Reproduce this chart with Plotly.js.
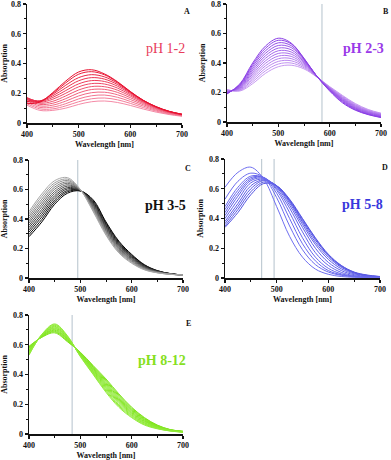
<!DOCTYPE html>
<html>
<head>
<meta charset="utf-8">
<script src="https://cdn.plot.ly/plotly-3.0.1.min.js"></script>
<style>
  html, body { margin: 0; padding: 0; background: #fff; }
  #chart { width: 391px; height: 460px; }
</style>
</head>
<body>
<div id="chart"></div>
<script>
// wavelength grid (nm)
const wavelengths = [400, 425, 450, 475, 500, 525, 550, 575, 600, 625, 650, 675, 700];

// A: pH 1-2
const curvesA = [
  [0.12, 0.085, 0.085, 0.10, 0.125, 0.143, 0.148, 0.138, 0.118, 0.094, 0.073, 0.057, 0.045],
  [0.13, 0.095, 0.095, 0.115, 0.143, 0.163, 0.168, 0.156, 0.132, 0.104, 0.080, 0.061, 0.048],
  [0.14, 0.105, 0.107, 0.13, 0.162, 0.183, 0.188, 0.173, 0.145, 0.114, 0.086, 0.065, 0.050],
  [0.15, 0.115, 0.12, 0.147, 0.182, 0.204, 0.207, 0.19, 0.158, 0.123, 0.092, 0.068, 0.052],
  [0.16, 0.125, 0.133, 0.164, 0.202, 0.225, 0.226, 0.206, 0.170, 0.131, 0.097, 0.071, 0.054],
  [0.165, 0.133, 0.146, 0.182, 0.222, 0.245, 0.244, 0.221, 0.181, 0.138, 0.101, 0.073, 0.055],
  [0.17, 0.14, 0.16, 0.20, 0.243, 0.265, 0.262, 0.235, 0.190, 0.143, 0.104, 0.075, 0.056],
  [0.17, 0.145, 0.172, 0.218, 0.263, 0.285, 0.279, 0.248, 0.198, 0.147, 0.106, 0.076, 0.057],
  [0.165, 0.148, 0.183, 0.236, 0.284, 0.305, 0.295, 0.259, 0.204, 0.150, 0.107, 0.077, 0.058],
  [0.155, 0.148, 0.193, 0.254, 0.305, 0.325, 0.310, 0.268, 0.208, 0.151, 0.108, 0.078, 0.058],
  [0.145, 0.145, 0.200, 0.270, 0.328, 0.345, 0.324, 0.274, 0.210, 0.152, 0.109, 0.078, 0.058],
  [0.13, 0.14, 0.205, 0.282, 0.343, 0.358, 0.330, 0.278, 0.212, 0.153, 0.110, 0.079, 0.059]
];

// B: pH 2-3
const curvesB = [
  [0.22, 0.21, 0.26, 0.33, 0.375, 0.385, 0.36, 0.305, 0.24, 0.18, 0.125, 0.085, 0.060],
  [0.218, 0.214, 0.273, 0.347, 0.393, 0.400, 0.368, 0.306, 0.237, 0.175, 0.120, 0.081, 0.057],
  [0.215, 0.218, 0.286, 0.364, 0.411, 0.415, 0.376, 0.307, 0.234, 0.170, 0.115, 0.077, 0.054],
  [0.212, 0.222, 0.299, 0.381, 0.429, 0.430, 0.384, 0.307, 0.232, 0.166, 0.111, 0.074, 0.052],
  [0.210, 0.226, 0.312, 0.398, 0.447, 0.445, 0.392, 0.308, 0.230, 0.162, 0.107, 0.071, 0.050],
  [0.207, 0.230, 0.325, 0.415, 0.465, 0.460, 0.400, 0.308, 0.228, 0.158, 0.103, 0.068, 0.047],
  [0.204, 0.234, 0.338, 0.432, 0.483, 0.475, 0.408, 0.309, 0.226, 0.154, 0.099, 0.065, 0.044],
  [0.201, 0.238, 0.351, 0.449, 0.501, 0.490, 0.415, 0.309, 0.224, 0.150, 0.095, 0.062, 0.041],
  [0.198, 0.243, 0.364, 0.466, 0.519, 0.505, 0.421, 0.310, 0.221, 0.146, 0.091, 0.058, 0.038],
  [0.195, 0.248, 0.377, 0.483, 0.537, 0.518, 0.426, 0.310, 0.218, 0.141, 0.087, 0.055, 0.035],
  [0.192, 0.253, 0.389, 0.500, 0.554, 0.530, 0.430, 0.310, 0.214, 0.136, 0.083, 0.052, 0.032],
  [0.19, 0.258, 0.40, 0.515, 0.568, 0.535, 0.432, 0.31, 0.21, 0.13, 0.08, 0.05, 0.03]
];

// C: pH 3-5
const curvesC = [
  [0.28, 0.38, 0.50, 0.575, 0.59, 0.53, 0.38, 0.25, 0.16, 0.09, 0.05, 0.03, 0.02],
  [0.295, 0.397, 0.515, 0.585, 0.591, 0.523, 0.372, 0.243, 0.155, 0.087, 0.049, 0.030, 0.02],
  [0.311, 0.415, 0.529, 0.594, 0.592, 0.515, 0.364, 0.235, 0.149, 0.084, 0.047, 0.029, 0.02],
  [0.326, 0.432, 0.544, 0.604, 0.593, 0.508, 0.355, 0.228, 0.144, 0.080, 0.046, 0.029, 0.02],
  [0.342, 0.449, 0.558, 0.613, 0.594, 0.501, 0.347, 0.221, 0.138, 0.077, 0.044, 0.028, 0.02],
  [0.357, 0.466, 0.573, 0.623, 0.595, 0.494, 0.339, 0.214, 0.133, 0.074, 0.043, 0.028, 0.02],
  [0.373, 0.484, 0.587, 0.632, 0.595, 0.486, 0.331, 0.206, 0.127, 0.071, 0.042, 0.027, 0.02],
  [0.388, 0.501, 0.602, 0.642, 0.596, 0.479, 0.323, 0.199, 0.122, 0.068, 0.040, 0.027, 0.02],
  [0.404, 0.518, 0.616, 0.651, 0.597, 0.472, 0.315, 0.192, 0.116, 0.064, 0.039, 0.026, 0.02],
  [0.419, 0.535, 0.631, 0.661, 0.598, 0.465, 0.306, 0.184, 0.111, 0.061, 0.037, 0.026, 0.02],
  [0.435, 0.553, 0.645, 0.670, 0.599, 0.457, 0.298, 0.177, 0.105, 0.058, 0.036, 0.025, 0.02],
  [0.45, 0.57, 0.66, 0.68, 0.60, 0.45, 0.29, 0.17, 0.10, 0.055, 0.035, 0.025, 0.02]
];

// D: pH 5-8
const curvesD = [
  [0.34, 0.44, 0.56, 0.635, 0.62, 0.53, 0.40, 0.27, 0.16, 0.085, 0.04, 0.02, 0.01],
  [0.35, 0.46, 0.58, 0.645, 0.62, 0.525, 0.395, 0.265, 0.155, 0.082, 0.038, 0.018, 0.009],
  [0.365, 0.48, 0.60, 0.655, 0.62, 0.52, 0.385, 0.255, 0.15, 0.078, 0.036, 0.017, 0.008],
  [0.38, 0.50, 0.62, 0.66, 0.62, 0.515, 0.375, 0.24, 0.14, 0.072, 0.033, 0.015, 0.007],
  [0.40, 0.525, 0.64, 0.665, 0.615, 0.505, 0.36, 0.225, 0.125, 0.062, 0.028, 0.013, 0.006],
  [0.42, 0.55, 0.655, 0.67, 0.61, 0.49, 0.34, 0.20, 0.105, 0.05, 0.022, 0.01, 0.005],
  [0.44, 0.57, 0.665, 0.675, 0.60, 0.47, 0.31, 0.17, 0.085, 0.038, 0.016, 0.008, 0.004],
  [0.46, 0.59, 0.675, 0.675, 0.59, 0.44, 0.27, 0.14, 0.065, 0.028, 0.012, 0.006, 0.003],
  [0.48, 0.61, 0.685, 0.675, 0.57, 0.40, 0.23, 0.115, 0.05, 0.022, 0.01, 0.005, 0.003],
  [0.53, 0.65, 0.705, 0.675, 0.54, 0.35, 0.19, 0.09, 0.04, 0.018, 0.008, 0.004, 0.002],
  [0.61, 0.71, 0.745, 0.665, 0.48, 0.28, 0.14, 0.06, 0.025, 0.01, 0.005, 0.003, 0.002]
];

// E: pH 8-12
const curvesE = [
  [0.59, 0.65, 0.68, 0.62, 0.55, 0.46, 0.37, 0.27, 0.18, 0.11, 0.06, 0.03, 0.018],
  [0.585, 0.652, 0.686, 0.624, 0.547, 0.455, 0.362, 0.262, 0.174, 0.106, 0.058, 0.029, 0.018],
  [0.579, 0.654, 0.691, 0.627, 0.545, 0.449, 0.354, 0.254, 0.167, 0.101, 0.055, 0.028, 0.017],
  [0.574, 0.655, 0.697, 0.631, 0.542, 0.444, 0.345, 0.245, 0.161, 0.096, 0.053, 0.027, 0.016],
  [0.568, 0.657, 0.702, 0.635, 0.539, 0.438, 0.337, 0.237, 0.155, 0.092, 0.051, 0.026, 0.016],
  [0.563, 0.659, 0.708, 0.638, 0.536, 0.433, 0.329, 0.229, 0.148, 0.087, 0.049, 0.026, 0.015],
  [0.557, 0.661, 0.713, 0.642, 0.534, 0.427, 0.321, 0.221, 0.142, 0.083, 0.046, 0.025, 0.015],
  [0.552, 0.663, 0.719, 0.645, 0.531, 0.422, 0.313, 0.213, 0.136, 0.078, 0.044, 0.024, 0.014],
  [0.546, 0.665, 0.724, 0.649, 0.528, 0.416, 0.305, 0.205, 0.129, 0.074, 0.042, 0.023, 0.014],
  [0.541, 0.666, 0.730, 0.653, 0.525, 0.411, 0.296, 0.196, 0.123, 0.069, 0.039, 0.022, 0.013],
  [0.535, 0.668, 0.735, 0.656, 0.523, 0.405, 0.288, 0.188, 0.116, 0.065, 0.037, 0.021, 0.013],
  [0.53, 0.67, 0.74, 0.66, 0.52, 0.40, 0.28, 0.18, 0.11, 0.06, 0.035, 0.02, 0.012]
];

const panelLetters = ["A", "B", "C", "D", "E"];
const phLabels = ["pH 1-2", "pH 2-3", "pH 3-5", "pH 5-8", "pH 8-12"];
// marker wavelengths (vertical lines) per panel
const markerLines = [[], [585], [495], [471, 495], [484]];

// ---- styling ----
const W = 391, H = 460;
const serif = "Liberation Serif, Times New Roman, serif";
// pixel boxes of each plot area: [left, right, top, bottom]
const boxes = [
  [27, 182, 4, 123],
  [227, 381, 4, 122],
  [29, 183, 160, 278],
  [225, 380, 159, 278],
  [29, 183, 315, 434]
];
const colorRanges = [
  ["#f58aa6", "#e8102e"],
  ["#c79af2", "#8a3ee6"],
  ["#000000", "#a8a8a8"],
  ["#5454e2", "#6e6ef0"],
  ["#7fe41c", "#92ec3a"]
];
const textColors = ["#e83c5c", "#9a3ae8", "#111111", "#3838dc", "#86e01e"];
const allCurves = [curvesA, curvesB, curvesC, curvesD, curvesE];

function hex(c) { return [1, 3, 5].map(i => parseInt(c.slice(i, i + 2), 16)); }
function mix(a, b, t) {
  const A = hex(a), B = hex(b);
  return "rgb(" + A.map((v, i) => Math.round(v + (B[i] - v) * t)).join(",") + ")";
}

const traces = [];
const layout = {
  width: W, height: H,
  margin: { l: 0, r: 0, t: 0, b: 0 },
  paper_bgcolor: "#fff", plot_bgcolor: "#fff",
  showlegend: false,
  shapes: [], annotations: []
};

const tickFont = { family: serif, size: 8, color: "#111", weight: "bold" };

allCurves.forEach((curves, p) => {
  const n = p + 1;
  const xa = n === 1 ? "x" : "x" + n;
  const ya = n === 1 ? "y" : "y" + n;
  const [l, r, t, b] = boxes[p];

  curves.forEach((vals, i) => {
    traces.push({
      x: wavelengths, y: vals,
      xaxis: xa, yaxis: ya,
      mode: "lines",
      line: { color: mix(colorRanges[p][0], colorRanges[p][1], i / (curves.length - 1)), width: 1, shape: "spline" },
      hoverinfo: "skip"
    });
  });

  layout["xaxis" + (n === 1 ? "" : n)] = {
    domain: [l / W, r / W], anchor: ya,
    range: [400, 700], dtick: 100, tick0: 400,
    showline: true, linecolor: "#111", linewidth: 1.5,
    ticks: "outside", ticklen: 3, tickwidth: 1.2, tickcolor: "#111",
    minor: { ticks: "outside", ticklen: 2, dtick: 50, tickcolor: "#111", tickwidth: 1 },
    showgrid: false, zeroline: false,
    tickfont: tickFont, ticklabeloverflow: "allow",
    title: { text: "Wavelength [nm]", font: { family: serif, size: 8, color: "#111", weight: "bold" }, standoff: 3 }
  };
  layout["yaxis" + (n === 1 ? "" : n)] = {
    domain: [1 - b / H, 1 - t / H], anchor: xa,
    range: [0, 0.8], dtick: 0.2,
    showline: true, linecolor: "#111", linewidth: 1.5,
    ticks: "outside", ticklen: 3, tickwidth: 1.2, tickcolor: "#111",
    minor: { ticks: "outside", ticklen: 2, dtick: 0.1, tickcolor: "#111", tickwidth: 1 },
    showgrid: false, zeroline: false,
    tickfont: tickFont, ticklabeloverflow: "allow",
    title: { text: "Absorption", font: { family: serif, size: 8, color: "#111", weight: "bold" }, standoff: 4 }
  };

  markerLines[p].forEach(wl => {
    layout.shapes.push({
      type: "line", xref: xa, yref: ya,
      x0: wl, x1: wl, y0: 0, y1: 0.8,
      line: { color: "#b4c2cc", width: 1 }, layer: "below"
    });
  });

  layout.annotations.push({
    text: panelLetters[p], xref: "paper", yref: "paper",
    x: (r + 5) / W, y: 1 - (t + 8) / H, xanchor: "center", yanchor: "middle",
    showarrow: false, font: { family: serif, size: 8, color: "#111", weight: "bold" }
  });
  layout.annotations.push({
    text: phLabels[p], xref: "paper", yref: "paper",
    x: (r + 5) / W, y: 1 - (t + 45) / H, xanchor: "right", yanchor: "middle",
    showarrow: false,
    font: { family: serif, size: 14, color: textColors[p], weight: p === 0 ? "normal" : "bold" }
  });
});

Plotly.newPlot("chart", traces, layout, { displayModeBar: false, staticPlot: true });
</script>
</body>
</html>
